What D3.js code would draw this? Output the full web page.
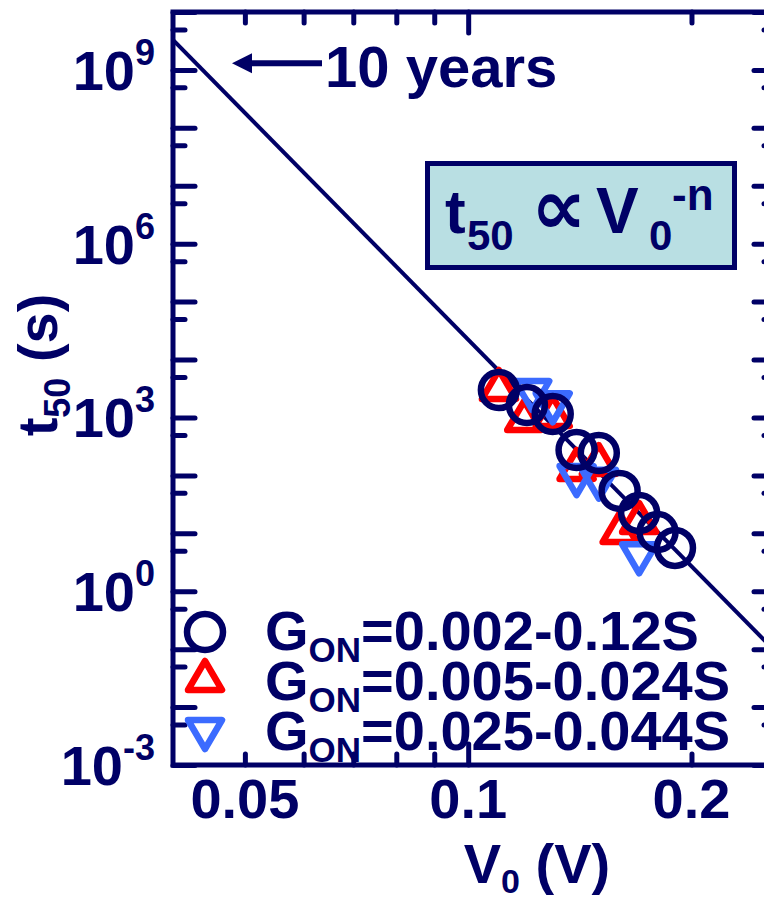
<!DOCTYPE html>
<html><head><meta charset="utf-8">
<script src="https://cdn.jsdelivr.net/npm/d3@7"></script>
<style>html,body{margin:0;padding:0;background:#fff;} svg{display:block;}</style>
</head><body><svg id="chart" width="764" height="898"></svg>
<script>
// ---- data ----
const circleV = [0.11, 0.12, 0.13, 0.14, 0.15, 0.16, 0.17, 0.18, 0.19];
const circleT = [2980, 1640, 1150, 274, 243, 54, 22.4, 10.5, 5.6];
const triUpV = [0.11, 0.119, 0.13, 0.14, 0.15, 0.16, 0.17];
const triUpT = [3630, 1060, 1240, 151, 184, 12.3, 18.4];
const triDownV = [0.122, 0.13, 0.14, 0.15, 0.17];
const triDownT = [2440, 1500, 83, 72, 3.7];
const fitV = [0.04, 0.26];
const fitT = [3.3e9, 0.089];
const xMajorTicks = [0.1];
const xMinorTicks = [0.05, 0.06, 0.07, 0.08, 0.09, 0.2];
const xTickLabels = ["0.05", "0.1", "0.2"];
const yLabelExps = [-3, 0, 3, 6, 9];
const yMajorExps = [-3, -2, -1, 0, 1, 2, 3, 4, 5, 6, 7, 8, 9, 10];
const yMinorExps = [-2, -1, 0, 1, 2, 3, 4, 5, 6, 7, 8, 9, 10];
const legendSub = "ON";
const legendRanges = ["=0.002-0.12S", "=0.005-0.024S", "=0.025-0.044S"];

// ---- setup ----
const navy = "#000066", red = "#FF0000", blue = "#3B6BFF";
const FONT = "'Liberation Sans', Arial, Helvetica, sans-serif";
const svg = d3.select("#chart").style("font-family", FONT).style("font-weight", "bold");
const L = 173, R = 776, T = 12, B = 765;
const x = d3.scaleLog().domain([0.04, 0.26]).range([L, R]);
const y = d3.scaleLog().domain([1e-3, 1e10]).range([B, T]);

svg.append("defs").append("clipPath").attr("id", "clip")
  .append("rect").attr("x", L).attr("y", T).attr("width", R - L).attr("height", B - T);

function styleAxis(g) {
  g.select(".domain").remove();
  g.selectAll(".tick line").attr("stroke", navy).attr("stroke-width", 5).attr("stroke-linecap", "round");
}
// x axes
[[d3.axisBottom, B], [d3.axisTop, T]].forEach(([fn, pos]) => {
  svg.append("g").attr("transform", `translate(0,${pos})`)
    .call(fn(x).tickValues(xMinorTicks).tickSize(-11).tickSizeOuter(0).tickFormat("")).call(styleAxis);
  svg.append("g").attr("transform", `translate(0,${pos})`)
    .call(fn(x).tickValues(xMajorTicks).tickSize(-21).tickSizeOuter(0).tickFormat("")).call(styleAxis);
});
// y axes
[[d3.axisLeft, L], [d3.axisRight, R]].forEach(([fn, pos]) => {
  svg.append("g").attr("transform", `translate(${pos},0)`)
    .call(fn(y).tickValues(yMinorExps.map(e => 5 * Math.pow(10, e - 1))).tickSize(-12).tickSizeOuter(0).tickFormat("")).call(styleAxis);
  svg.append("g").attr("transform", `translate(${pos},0)`)
    .call(fn(y).tickValues(yMajorExps.map(e => Math.pow(10, e))).tickSize(-22).tickSizeOuter(0).tickFormat("")).call(styleAxis);
});
// frame
svg.append("rect").attr("x", L).attr("y", T).attr("width", R - L).attr("height", B - T)
  .attr("fill", "none").attr("stroke", navy).attr("stroke-width", 5);

// x tick labels
svg.append("g").selectAll("text").data(xTickLabels).join("text")
  .attr("x", d => x(+d)).attr("y", 818).attr("text-anchor", "middle")
  .attr("font-size", 56).attr("fill", navy).text(d => d);

// y tick labels
const yl = svg.append("g").selectAll("text").data(yLabelExps).join("text")
  .attr("x", 155).attr("y", d => y(Math.pow(10, d)) + 20).attr("text-anchor", "end")
  .attr("font-size", 56).attr("fill", navy);
yl.append("tspan").text("10");
yl.append("tspan").attr("font-size", 36).attr("dy", -25).text(d => String(d));

// axis titles
const xt = svg.append("text").attr("x", 537).attr("y", 883).attr("text-anchor", "middle")
  .attr("font-size", 56).attr("fill", navy);
xt.append("tspan").text("V");
xt.append("tspan").attr("font-size", 34).attr("dy", 10).text("0");
xt.append("tspan").attr("dy", -10).text(" (V)");

const yt = svg.append("text").attr("transform", "translate(57,365) rotate(-90)").attr("text-anchor", "middle")
  .attr("font-size", 56).attr("fill", navy);
yt.append("tspan").text("t");
yt.append("tspan").attr("font-size", 36).attr("dy", 13).text("50");
yt.append("tspan").attr("dy", -13).text(" (s)");

// fit line
const lineData = fitV.map((v, i) => [v, fitT[i]]);
svg.append("path").datum(lineData).attr("clip-path", "url(#clip)")
  .attr("d", d3.line().x(d => x(d[0])).y(d => y(d[1])))
  .attr("fill", "none").attr("stroke", navy).attr("stroke-width", 4);

// markers
const triUp = "M0,-15L17,14L-17,14Z";
const triDown = "M0,15L17,-14L-17,-14Z";
svg.append("g").selectAll("path").data(triUpV.map((v, i) => [v, triUpT[i]])).join("path")
  .attr("d", triUp).attr("transform", d => `translate(${x(d[0])},${y(d[1])})`)
  .attr("fill", "none").attr("stroke", red).attr("stroke-width", 6.5).attr("stroke-linejoin", "round");
svg.append("g").selectAll("path").data(triDownV.map((v, i) => [v, triDownT[i]])).join("path")
  .attr("d", triDown).attr("transform", d => `translate(${x(d[0])},${y(d[1])})`)
  .attr("fill", "none").attr("stroke", blue).attr("stroke-width", 6.5).attr("stroke-linejoin", "round");
svg.append("g").selectAll("circle").data(circleV.map((v, i) => [v, circleT[i]])).join("circle")
  .attr("cx", d => x(d[0])).attr("cy", d => y(d[1])).attr("r", 18)
  .attr("fill", "none").attr("stroke", navy).attr("stroke-width", 6.5);

// 10 years arrow
const ay = y(1.3e9);
svg.append("line").attr("x1", 245).attr("x2", 322).attr("y1", ay).attr("y2", ay)
  .attr("stroke", navy).attr("stroke-width", 6);
svg.append("path").attr("d", `M232,${ay}L252,${ay - 10}L252,${ay + 10}Z`).attr("fill", navy);
svg.append("text").attr("x", 325).attr("y", 87).attr("font-size", 58).attr("fill", navy).text("10 years");

// formula box
svg.append("rect").attr("x", 427.5).attr("y", 163.5).attr("width", 307).attr("height", 104)
  .attr("fill", "#B9DFE3").attr("stroke", navy).attr("stroke-width", 5);
const ft = svg.append("g").attr("fill", navy);
ft.append("text").attr("x", 445).attr("y", 233).attr("font-size", 62).text("t");
ft.append("text").attr("x", 467).attr("y", 250).attr("font-size", 42).text("50");
ft.append("text").attr("x", 531).attr("y", 234).attr("font-size", 78).attr("font-family", "'DejaVu Sans', sans-serif").text("\u221D");
ft.append("text").attr("x", 596).attr("y", 233).attr("font-size", 64).text("V");
ft.append("text").attr("x", 649).attr("y", 250).attr("font-size", 42).text("0");
ft.append("text").attr("x", 672).attr("y", 210).attr("font-size", 44).text("-n");

// legend
const legY = [632, 676, 734];
svg.append("circle").attr("cx", 205).attr("cy", legY[0]).attr("r", 18)
  .attr("fill", "none").attr("stroke", navy).attr("stroke-width", 6.5);
svg.append("path").attr("d", triUp).attr("transform", `translate(205,${legY[1]})`)
  .attr("fill", "none").attr("stroke", red).attr("stroke-width", 6.5).attr("stroke-linejoin", "round");
svg.append("path").attr("d", triDown).attr("transform", `translate(205,${legY[2]})`)
  .attr("fill", "none").attr("stroke", blue).attr("stroke-width", 6.5).attr("stroke-linejoin", "round");
const legBase = [650, 700, 750];
legendRanges.forEach((r, i) => {
  const t = svg.append("text").attr("x", 265).attr("y", legBase[i]).attr("font-size", 56).attr("fill", navy);
  t.append("tspan").text("G");
  t.append("tspan").attr("font-size", 35).attr("dy", 12).text(legendSub);
  t.append("tspan").attr("dy", -12).text(r);
});
</script></body></html>
